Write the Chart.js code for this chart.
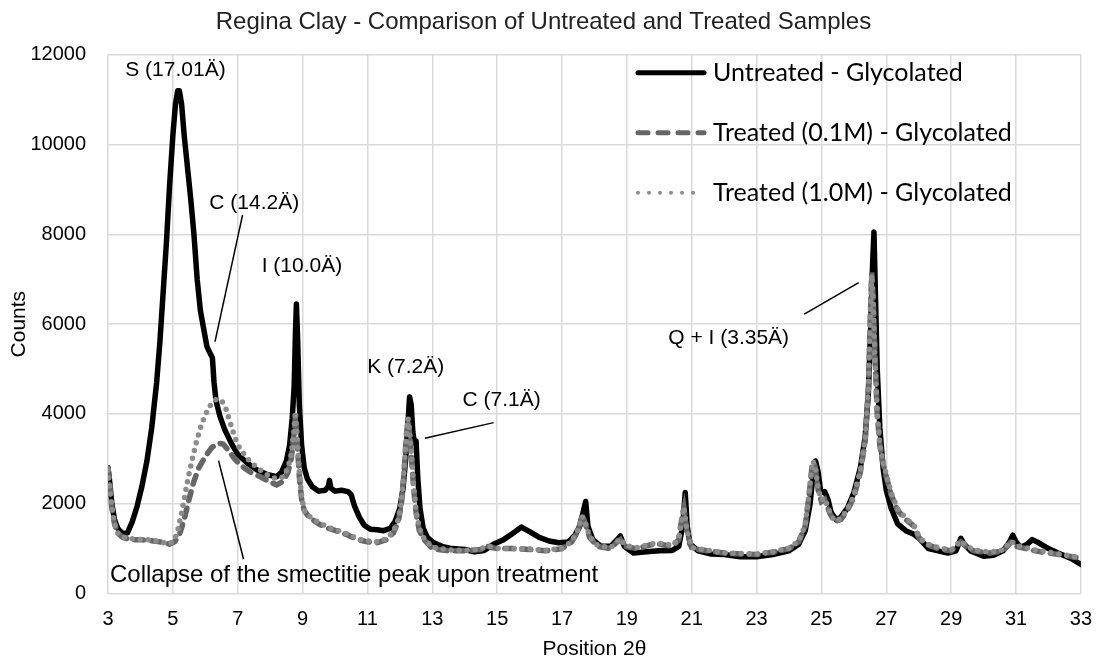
<!DOCTYPE html>
<html><head><meta charset="utf-8">
<script src="https://cdn.jsdelivr.net/npm/chart.js@4/dist/chart.umd.min.js"></script>
<style>html,body{margin:0;padding:0;background:#fff}#wrap{width:1106px;height:662px}</style>
</head><body><div id="wrap"><canvas id="c" width="1106" height="662"></canvas></div>
<script>
// ---------- data ----------
const chartTitle = 'Regina Clay - Comparison of Untreated and Treated Samples';
const xAxisTitle = 'Position 2θ';
const yAxisTitle = 'Counts';
const seriesLabels = ['Untreated - Glycolated', 'Treated (0.1M) - Glycolated', 'Treated (1.0M) - Glycolated'];

const untreatedX = [3.00,3.05,3.12,3.20,3.30,3.45,3.60,3.75,3.90,4.05,4.20,4.35,4.50,4.60,4.70,4.80,4.90,5.00,5.08,5.15,5.20,5.27,5.35,5.45,5.55,5.65,5.75,5.85,5.95,6.05,6.15,6.22,6.27,6.33,6.45,6.60,6.80,7.00,7.30,7.60,7.90,8.20,8.35,8.50,8.60,8.68,8.74,8.78,8.81,8.85,8.90,8.97,9.05,9.15,9.30,9.50,9.70,9.80,9.83,9.87,10.0,10.2,10.4,10.5,10.6,10.75,10.9,11.1,11.3,11.5,11.7,11.85,12.0,12.1,12.18,12.25,12.3,12.35,12.4,12.45,12.5,12.55,12.62,12.72,12.85,13.0,13.3,13.6,14.0,14.3,14.6,14.9,15.2,15.5,15.75,16.0,16.3,16.6,16.9,17.2,17.4,17.55,17.68,17.73,17.8,17.95,18.2,18.5,18.7,18.8,18.92,19.2,19.6,20.0,20.4,20.6,20.72,20.8,20.86,20.95,21.2,21.6,22.0,22.5,23.0,23.5,24.0,24.3,24.5,24.65,24.75,24.82,24.9,24.98,25.1,25.2,25.3,25.45,25.6,25.8,26.0,26.2,26.35,26.45,26.52,26.58,26.62,26.66,26.72,26.8,26.9,27.0,27.15,27.35,27.6,27.85,28.05,28.3,28.6,28.9,29.15,29.3,29.4,29.6,30.0,30.3,30.6,30.8,30.9,31.0,31.15,31.35,31.5,31.7,32.0,32.3,32.7,33.0];
const untreatedY = [2800,2500,2000,1650,1450,1330,1350,1600,1950,2400,2950,3700,4700,5600,6700,7800,9100,10200,10900,11200,11200,10900,10200,9500,8800,8000,7000,6300,5900,5500,5350,5250,4700,4300,3950,3650,3350,3100,2900,2750,2650,2600,2700,2950,3300,3900,4600,5800,6450,5600,4200,3300,2800,2550,2380,2280,2300,2400,2520,2350,2280,2300,2270,2200,1950,1700,1520,1430,1420,1400,1450,1600,1900,2350,3000,3800,4380,4200,3600,3350,3400,2600,1900,1450,1250,1150,1050,1000,980,930,960,1100,1200,1350,1480,1380,1250,1170,1130,1150,1300,1500,1900,2050,1500,1200,1050,1050,1200,1280,1050,900,930,950,960,1050,1500,2250,1500,1100,950,880,870,820,820,870,950,1100,1400,2000,2700,2950,2700,2250,2270,2100,1800,1650,1700,1900,2250,2800,3500,4500,6000,7400,8050,6800,5000,3700,2800,2300,1900,1550,1400,1320,1200,1000,950,900,950,1230,1100,950,830,850,950,1150,1300,1150,1030,1100,1200,1130,1000,900,780,650];

const treated01X = [3.00,3.05,3.12,3.20,3.30,3.45,3.70,4.00,4.30,4.60,4.90,5.05,5.20,5.35,5.50,5.65,5.80,6.00,6.20,6.40,6.55,6.70,6.90,7.10,7.40,7.70,8.00,8.20,8.40,8.55,8.65,8.73,8.78,8.83,8.90,8.97,9.05,9.20,9.50,9.80,10.1,10.4,10.7,11.0,11.3,11.6,11.8,11.95,12.05,12.13,12.2,12.25,12.3,12.36,12.43,12.5,12.6,12.75,13.0,13.5,14.0,14.5,14.7,15.0,15.5,16.0,16.5,17.0,17.3,17.5,17.62,17.7,17.85,18.1,18.5,18.7,18.8,18.95,19.3,19.7,20.0,20.4,20.6,20.7,20.76,20.85,21.0,21.5,22.0,22.5,23.0,23.5,24.0,24.3,24.5,24.62,24.72,24.8,24.9,25.0,25.1,25.25,25.4,25.6,25.8,26.0,26.2,26.35,26.45,26.5,26.55,26.6,26.65,26.72,26.8,26.9,27.0,27.15,27.35,27.6,27.85,28.0,28.2,28.6,29.0,29.3,29.45,29.7,30.2,30.6,30.85,31.0,31.3,31.6,32.0,32.5,33.0];
const treated01Y = [2800,2450,1900,1550,1350,1250,1200,1200,1180,1150,1100,1150,1300,1650,2100,2500,2800,3050,3250,3350,3330,3200,3000,2850,2700,2600,2480,2420,2500,2700,3000,3500,3950,3400,2600,2100,1850,1700,1550,1450,1380,1300,1200,1150,1130,1200,1350,1600,2000,2700,3500,3850,3600,3000,2300,1800,1400,1200,1000,950,950,980,1050,1000,1000,980,950,1000,1150,1400,1750,1600,1250,1050,1000,1150,1200,1050,1000,1080,1100,1050,1200,1700,1900,1400,1000,950,900,880,870,920,1000,1150,1500,2200,2900,2850,2300,2050,2100,1800,1600,1650,1850,2150,2700,3400,4600,6000,7150,6500,5300,4000,3300,2900,2600,2200,1850,1650,1500,1250,1100,1000,950,1150,1050,950,900,950,1150,1050,1000,950,900,850,780];

const treated10X = [3.00,3.05,3.12,3.20,3.30,3.45,3.70,4.00,4.30,4.60,4.90,5.05,5.15,5.30,5.45,5.60,5.75,5.90,6.05,6.20,6.35,6.50,6.62,6.75,6.90,7.05,7.30,7.60,7.90,8.20,8.40,8.55,8.65,8.73,8.78,8.83,8.90,8.97,9.05,9.20,9.50,9.80,10.1,10.4,10.7,11.0,11.3,11.6,11.8,11.95,12.05,12.13,12.2,12.25,12.3,12.36,12.43,12.5,12.6,12.75,13.0,13.5,14.0,14.5,14.7,15.0,15.5,16.0,16.5,17.0,17.3,17.5,17.62,17.7,17.85,18.1,18.5,18.7,18.8,18.95,19.3,19.7,20.0,20.4,20.6,20.7,20.76,20.85,21.0,21.5,22.0,22.5,23.0,23.5,24.0,24.3,24.5,24.62,24.72,24.8,24.9,25.0,25.1,25.25,25.4,25.6,25.8,26.0,26.2,26.35,26.45,26.5,26.55,26.6,26.65,26.72,26.8,26.9,27.0,27.15,27.35,27.6,27.85,28.0,28.2,28.6,29.0,29.3,29.45,29.7,30.2,30.6,30.85,31.0,31.3,31.6,32.0,32.5,33.0];
const treated10Y = [2750,2400,1900,1550,1350,1260,1220,1200,1200,1150,1100,1200,1400,1900,2500,3000,3450,3800,4050,4250,4330,4300,4150,3850,3500,3250,3000,2800,2650,2550,2600,2800,3100,3600,4050,3500,2700,2150,1850,1720,1580,1470,1400,1320,1220,1170,1150,1220,1380,1650,2050,2750,3550,3900,3650,3050,2350,1850,1450,1220,1030,970,960,990,1060,1010,1000,990,960,1010,1160,1420,1720,1620,1270,1070,1020,1160,1220,1070,1020,1100,1120,1070,1220,1720,1920,1420,1020,960,910,890,880,930,1010,1170,1520,2250,2950,2880,2330,2080,2120,1820,1620,1670,1870,2180,2720,3450,4650,6050,7100,6450,5250,4000,3320,2920,2650,2250,1880,1680,1520,1280,1120,1020,970,1170,1070,970,920,970,1170,1070,1020,970,920,860,790];

const xMin = 3, xMax = 33, xStep = 2;
const yMin = 0, yMax = 12000, yStep = 2000;

// annotation label texts
const annotationTexts = ['S (17.01Ä)', 'C (14.2Ä)', 'I (10.0Ä)', 'K (7.2Ä)', 'C (7.1Ä)', 'Q + I (3.35Ä)', 'Collapse of the smectitie peak upon treatment'];

const toPts = (xs, ys) => xs.map((x, i) => ({x: x, y: ys[i]}));

// ---------- plugins ----------
const annotationPlugin = {
  id: 'annot',
  afterDatasetsDraw(chart, args, opts) {
    const {ctx, scales: {x, y}} = chart;
    ctx.save();
    ctx.strokeStyle = '#000';
    ctx.lineWidth = 1.5;
    opts.lines.forEach(l => {
      ctx.beginPath();
      ctx.moveTo(x.getPixelForValue(l[0]), y.getPixelForValue(l[1]));
      ctx.lineTo(x.getPixelForValue(l[2]), y.getPixelForValue(l[3]));
      ctx.stroke();
    });
    ctx.fillStyle = '#000';
    ctx.textBaseline = 'middle';
    opts.labels.forEach(a => {
      ctx.font = a.size + 'px "Liberation Sans", Arial, sans-serif';
      ctx.textAlign = a.align || 'center';
      ctx.fillText(annotationTexts[a.i], x.getPixelForValue(a.x), y.getPixelForValue(a.y));
    });
    ctx.restore();
  }
};

const legendPlugin = {
  id: 'customLegend',
  afterDraw(chart, args, opts) {
    const {ctx, chartArea} = chart;
    ctx.save();
    const left = chartArea.left + opts.offsetX;
    seriesLabels.forEach((lab, k) => {
      const ds = chart.data.datasets.find(d => d.label === lab);
      const yy = chartArea.top + opts.offsetY + k * opts.rowGap;
      ctx.strokeStyle = ds.borderColor;
      ctx.lineWidth = ds.legendWidth;
      ctx.lineCap = 'round';
      ctx.setLineDash(ds.legendDash);
      ctx.beginPath();
      ctx.moveTo(left + 3, yy);
      ctx.lineTo(left + opts.sample - 3, yy);
      ctx.stroke();
      ctx.setLineDash([]);
      ctx.fillStyle = '#000';
      ctx.font = opts.fontSize + 'px Lato, "Open Sans", sans-serif';
      ctx.textAlign = 'left';
      ctx.textBaseline = 'middle';
      ctx.fillText(lab, left + opts.sample + 6, yy);
    });
    ctx.restore();
  }
};

// ---------- chart ----------
const gridColor = '#d9d9d9';
new Chart(document.getElementById('c'), {
  type: 'scatter',
  data: {
    datasets: [
      {label: seriesLabels[2], data: toPts(treated10X, treated10Y), showLine: true, borderColor: '#8c8c8c', borderWidth: 5.5,
       borderDash: [0, 8], borderCapStyle: 'round', pointRadius: 0, tension: 0, legendWidth: 4, legendDash: [0, 11]},
      {label: seriesLabels[1], data: toPts(treated01X, treated01Y), showLine: true, borderColor: '#666666', borderWidth: 5.5,
       borderDash: [9, 8], borderCapStyle: 'round', pointRadius: 0, tension: 0, legendWidth: 5, legendDash: [10, 10]},
      {label: seriesLabels[0], data: toPts(untreatedX, untreatedY), showLine: true, borderColor: '#000000', borderWidth: 5.5,
       borderCapStyle: 'round', borderJoinStyle: 'round', pointRadius: 0, tension: 0, legendWidth: 5, legendDash: []}
    ]
  },
  options: {
    responsive: false,
    animation: false,
    devicePixelRatio: 1,
    layout: {padding: {left: 0, right: 19, top: 0, bottom: 0}},
    scales: {
      x: {
        type: 'linear', min: xMin, max: xMax,
        ticks: {stepSize: xStep, color: '#000', padding: 14, font: {family: '"Liberation Sans", Arial, sans-serif', size: 20}, maxRotation: 0,
                callback: v => String(v)},
        grid: {color: gridColor, lineWidth: 1.5, drawTicks: false},
        border: {display: false},
        title: {display: true, text: xAxisTitle, color: '#000', padding: {top: 0, bottom: 0}, font: {family: '"Liberation Sans", Arial, sans-serif', size: 21}},
        afterFit(s) { s.height = 68.5; }
      },
      y: {
        type: 'linear', min: yMin, max: yMax,
        ticks: {stepSize: yStep, color: '#000', padding: 22, font: {family: '"Liberation Sans", Arial, sans-serif', size: 20},
                callback: v => String(v)},
        grid: {color: gridColor, lineWidth: 1.5, drawTicks: false},
        border: {display: false},
        title: {display: true, text: yAxisTitle, color: '#000', padding: {top: 7, bottom: 0}, font: {family: '"Liberation Sans", Arial, sans-serif', size: 21}},
        afterFit(s) { s.width = 108; }
      }
    },
    plugins: {
      legend: {display: false},
      tooltip: {enabled: false},
      title: {display: true, text: chartTitle, color: '#222', padding: {top: 8, bottom: 18}, font: {family: '"Liberation Sans", Arial, sans-serif', size: 24, weight: 'normal'}},
      annot: {
        labels: [
          {i: 0, x: 5.08, y: 11660, size: 21},
          {i: 1, x: 7.51, y: 8700, size: 21},
          {i: 2, x: 8.98, y: 7280, size: 21},
          {i: 3, x: 12.18, y: 5050, size: 21},
          {i: 4, x: 15.14, y: 4310, size: 21},
          {i: 5, x: 22.14, y: 5690, size: 21},
          {i: 6, x: 3.06, y: 410, size: 24, align: 'left'}
        ],
        lines: [
          [7.15, 8435, 6.30, 5611],
          [14.89, 3806, 12.77, 3459],
          [24.47, 6222, 26.15, 6926],
          [6.41, 2959, 7.18, 762]
        ]
      },
      customLegend: {offsetX: 527, offsetY: 18, rowGap: 60, sample: 72, fontSize: 25}
    }
  },
  plugins: [annotationPlugin, legendPlugin]
});
</script>
</body></html>
